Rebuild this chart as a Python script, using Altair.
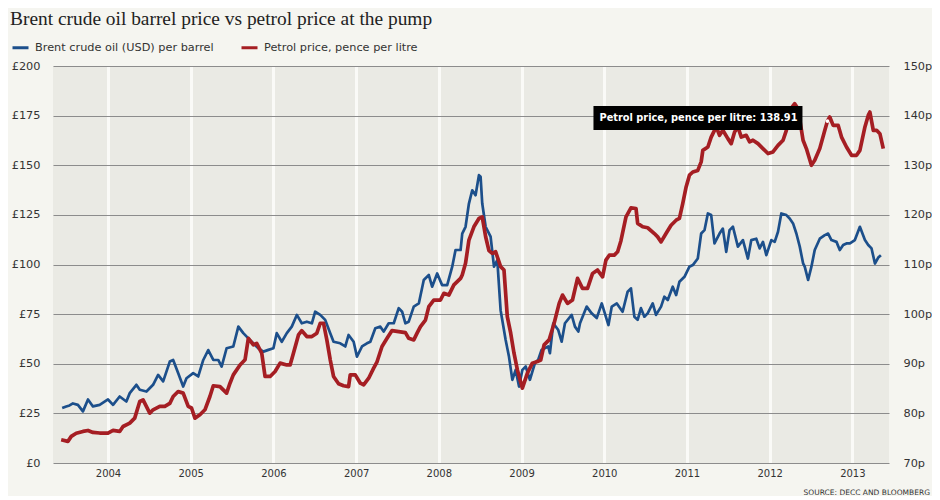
import altair as alt
import pandas as pd

TITLE = "Brent crude oil barrel price vs petrol price at the pump"
SOURCE = "SOURCE: DECC AND BLOOMBERG"
BLUE_NAME = "Brent crude oil (USD) per barrel"
RED_NAME = "Petrol price, pence per litre"

brent_year = [
    2003.446, 2003.495, 2003.535, 2003.576, 2003.636, 2003.697, 2003.758, 2003.818, 2003.899,
    2004.000, 2004.061, 2004.141, 2004.222, 2004.263, 2004.343, 2004.384, 2004.465, 2004.545,
    2004.606, 2004.667, 2004.747, 2004.788, 2004.848, 2004.909, 2004.949, 2005.030, 2005.091,
    2005.152, 2005.212, 2005.273, 2005.333, 2005.374, 2005.434, 2005.515, 2005.576, 2005.636,
    2005.697, 2005.737, 2005.818, 2005.879, 2005.939, 2006.000, 2006.040, 2006.101, 2006.162,
    2006.222, 2006.283, 2006.343, 2006.404, 2006.465, 2006.505, 2006.566, 2006.626, 2006.687,
    2006.727, 2006.808, 2006.869, 2006.909, 2006.970, 2007.010, 2007.071, 2007.131, 2007.172,
    2007.232, 2007.293, 2007.333, 2007.394, 2007.455, 2007.515, 2007.556, 2007.596, 2007.636,
    2007.697, 2007.758, 2007.818, 2007.879, 2007.919, 2007.980, 2008.040, 2008.101, 2008.162,
    2008.202, 2008.263, 2008.283, 2008.323, 2008.364, 2008.404, 2008.444, 2008.485, 2008.505,
    2008.525, 2008.566, 2008.626, 2008.667, 2008.707, 2008.747, 2008.808, 2008.848, 2008.889,
    2008.929, 2008.970, 2009.010, 2009.051, 2009.101, 2009.162, 2009.202, 2009.242, 2009.323,
    2009.343, 2009.384, 2009.444, 2009.485, 2009.525, 2009.606, 2009.646, 2009.687, 2009.707,
    2009.788, 2009.848, 2009.909, 2009.970, 2010.051, 2010.091, 2010.152, 2010.222, 2010.283,
    2010.323, 2010.364, 2010.404, 2010.444, 2010.485, 2010.525, 2010.586, 2010.626, 2010.687,
    2010.727, 2010.768, 2010.828, 2010.869, 2010.909, 2010.970, 2011.030, 2011.071, 2011.131,
    2011.172, 2011.212, 2011.253, 2011.293, 2011.333, 2011.394, 2011.434, 2011.475, 2011.515,
    2011.556, 2011.616, 2011.677, 2011.737, 2011.778, 2011.838, 2011.879, 2011.919, 2011.960,
    2012.020, 2012.061, 2012.101, 2012.141, 2012.202, 2012.242, 2012.283, 2012.323, 2012.364,
    2012.404, 2012.424, 2012.465, 2012.505, 2012.545, 2012.606, 2012.667, 2012.707, 2012.747,
    2012.808, 2012.848, 2012.889, 2012.929, 2012.970, 2013.030, 2013.091, 2013.152, 2013.192,
    2013.232, 2013.273, 2013.313, 2013.345,
]
brent_usd = [
    27.7, 28.5, 29.0, 30.0, 29.3, 26.0, 32.0, 28.5, 29.3,
    32.0, 29.3, 33.5, 31.0, 35.2, 39.4, 36.9, 36.0, 39.4,
    44.4, 41.1, 51.1, 51.9, 45.3, 38.5, 42.7, 45.3, 43.6,
    51.9, 56.9, 51.9, 51.9, 48.6, 57.8, 58.7, 68.7, 65.4,
    62.8, 61.1, 57.8, 56.1, 57.0, 57.8, 65.4, 61.1, 65.4,
    68.7, 74.6, 70.4, 71.2, 70.4, 76.2, 74.6, 72.1, 65.4,
    61.1, 60.3, 58.7, 64.5, 61.1, 53.6, 58.7, 60.3, 61.1,
    67.9, 68.7, 66.2, 70.4, 70.4, 78.0, 76.2, 70.4, 71.2,
    78.8, 80.4, 92.2, 94.7, 88.8, 95.5, 89.6, 89.6, 98.9,
    107.3, 107.3, 115.6, 119.0, 130.7, 137.4, 134.9, 145.0, 144.2,
    130.7, 119.0, 114.0, 98.9, 102.2, 77.0, 62.0, 53.6, 41.9,
    46.9, 38.5, 46.9, 48.6, 41.9, 50.3, 52.0, 57.0, 58.7,
    55.3, 70.4, 67.0, 61.1, 70.4, 74.6, 68.7, 66.2, 70.4,
    78.8, 75.4, 73.0, 80.4, 69.5, 78.8, 80.4, 76.2, 86.3,
    88.0, 73.7, 72.1, 78.0, 73.7, 75.4, 80.4, 74.6, 78.8,
    83.8, 82.1, 88.8, 84.6, 91.3, 93.8, 98.9, 99.7, 103.0,
    115.6, 117.3, 125.7, 124.9, 110.6, 115.6, 118.1, 106.4, 117.3,
    119.0, 109.0, 112.3, 103.0, 112.3, 113.0, 108.1, 111.4, 104.7,
    112.3, 111.4, 116.5, 125.7, 124.9, 123.2, 120.7, 115.6, 109.0,
    100.6, 98.9, 92.2, 98.9, 107.3, 113.0, 114.8, 115.6, 112.3,
    111.4, 107.3, 109.8, 110.6, 110.6, 112.3, 119.0, 112.3, 109.8,
    108.1, 100.5, 103.5, 104.7,
]

petrol_year = [
    2003.434, 2003.515, 2003.556, 2003.616, 2003.697, 2003.758, 2003.818, 2003.899, 2004.000,
    2004.061, 2004.141, 2004.182, 2004.263, 2004.323, 2004.384, 2004.424, 2004.505, 2004.545,
    2004.626, 2004.687, 2004.747, 2004.788, 2004.848, 2004.909, 2004.970, 2005.010, 2005.051,
    2005.111, 2005.172, 2005.232, 2005.273, 2005.354, 2005.434, 2005.475, 2005.515, 2005.596,
    2005.657, 2005.697, 2005.758, 2005.798, 2005.859, 2005.899, 2005.960, 2006.020, 2006.081,
    2006.162, 2006.202, 2006.242, 2006.303, 2006.343, 2006.404, 2006.465, 2006.525, 2006.566,
    2006.606, 2006.646, 2006.687, 2006.727, 2006.788, 2006.848, 2006.909, 2006.929, 2006.990,
    2007.051, 2007.091, 2007.152, 2007.212, 2007.253, 2007.313, 2007.374, 2007.434, 2007.515,
    2007.596, 2007.636, 2007.697, 2007.737, 2007.778, 2007.838, 2007.879, 2007.939, 2008.020,
    2008.061, 2008.121, 2008.182, 2008.263, 2008.283, 2008.323, 2008.364, 2008.424, 2008.485,
    2008.525, 2008.566, 2008.606, 2008.646, 2008.687, 2008.747, 2008.788, 2008.828, 2008.869,
    2008.909, 2008.950, 2009.010, 2009.071, 2009.131, 2009.192, 2009.232, 2009.273, 2009.333,
    2009.394, 2009.455, 2009.495, 2009.556, 2009.616, 2009.677, 2009.737, 2009.798, 2009.859,
    2009.919, 2009.980, 2010.020, 2010.061, 2010.121, 2010.162, 2010.202, 2010.263, 2010.323,
    2010.384, 2010.404, 2010.465, 2010.525, 2010.606, 2010.646, 2010.687, 2010.747, 2010.808,
    2010.869, 2010.909, 2010.949, 2010.990, 2011.030, 2011.071, 2011.131, 2011.172, 2011.192,
    2011.253, 2011.293, 2011.354, 2011.394, 2011.434, 2011.495, 2011.535, 2011.576, 2011.616,
    2011.657, 2011.717, 2011.758, 2011.798, 2011.859, 2011.919, 2011.980, 2012.040, 2012.101,
    2012.162, 2012.202, 2012.242, 2012.303, 2012.343, 2012.404, 2012.444, 2012.505, 2012.545,
    2012.606, 2012.667, 2012.699, 2012.727, 2012.768, 2012.828, 2012.869, 2012.929, 2012.990,
    2013.051, 2013.091, 2013.152, 2013.192, 2013.212, 2013.253, 2013.293, 2013.333, 2013.374,
]
petrol_pence = [
    74.68, 74.36, 75.36, 76.00, 76.36, 76.56, 76.16, 76.04, 76.04,
    76.56, 76.36, 77.36, 78.04, 79.04, 82.40, 82.72, 80.04, 80.72,
    81.40, 81.40, 82.00, 83.40, 84.40, 84.08, 81.40, 81.08, 79.04,
    79.72, 80.72, 83.40, 85.56, 85.40, 84.08, 86.08, 87.76, 89.76,
    90.80, 95.12, 93.80, 94.12, 92.12, 87.44, 87.44, 88.44, 90.12,
    89.76, 89.76, 92.12, 95.80, 96.68, 95.48, 95.48, 96.16, 98.16,
    98.16, 94.80, 90.80, 87.44, 85.96, 85.56, 85.40, 87.76, 87.76,
    86.08, 85.76, 87.08, 89.12, 90.40, 93.48, 95.12, 96.68, 96.48,
    96.28, 95.12, 94.80, 96.16, 97.48, 98.80, 101.52, 102.84, 102.84,
    104.20, 103.84, 105.88, 107.20, 107.88, 110.24, 114.92, 117.60, 119.28,
    119.60, 115.60, 112.80, 112.24, 112.56, 109.56, 108.88, 99.48, 96.16,
    92.12, 88.76, 85.08, 88.12, 90.12, 90.44, 90.76, 93.80, 94.80,
    98.16, 102.16, 103.84, 102.16, 102.84, 107.20, 105.20, 105.20, 108.20,
    108.88, 107.52, 110.88, 111.88, 111.88, 112.56, 114.80, 119.60, 121.40,
    121.28, 118.28, 117.60, 117.40, 116.24, 115.56, 114.56, 116.24, 117.92,
    118.92, 119.28, 122.28, 125.64, 128.00, 128.64, 128.96, 130.68, 133.00,
    133.68, 135.68, 137.72, 136.04, 137.04, 135.36, 134.36, 136.72, 137.72,
    135.68, 136.04, 134.72, 135.04, 134.36, 133.36, 132.36, 132.68, 134.00,
    135.04, 137.04, 141.04, 142.40, 141.40, 135.04, 133.36, 130.00, 131.00,
    133.36, 137.04, 138.91, 139.72, 138.04, 138.04, 135.68, 133.68, 132.00,
    132.00, 133.00, 137.72, 140.04, 140.72, 137.04, 137.04, 136.36, 133.36,
]

year_ticks = [2004, 2005, 2006, 2007, 2008, 2009, 2010, 2011, 2012, 2013]
usd_ticks = [0, 25, 50, 75, 100, 125, 150, 175, 200]
pence_ticks = [70, 80, 90, 100, 110, 120, 130, 140, 150]
hover_year = 2012.699
hover_pence = 138.91

BLUE = "#1C4F8B"
RED = "#A51E23"
FONT = "DejaVu Sans"
TXT = "#333333"
W, H = 836, 397

blue_df = pd.DataFrame({"year": brent_year, "value": brent_usd, "series": BLUE_NAME})
red_df = pd.DataFrame({"year": petrol_year, "pence": petrol_pence, "series": RED_NAME})
hover_df = pd.DataFrame({
    "year": [hover_year],
    "pence": [hover_pence],
    "label": [f"{RED_NAME}: {hover_pence:.2f}"],
})

x_enc = alt.X(
    "year:Q",
    scale=alt.Scale(domain=[2003.335, 2013.443], nice=False, zero=False),
    axis=alt.Axis(values=year_ticks, format="d", title=None, grid=True,
                  gridColor="#FAFAF7", gridWidth=3, domain=False, ticks=False,
                  tickSize=0, labelPadding=5, labelFontSize=10, labelColor=TXT,
                  labelFont=FONT),
)

color = alt.Color(
    "series:N",
    scale=alt.Scale(domain=[BLUE_NAME, RED_NAME], range=[BLUE, RED]),
    legend=alt.Legend(title=None, orient="none", legendX=-42, legendY=-28,
                      direction="horizontal", symbolType="stroke",
                      symbolStrokeWidth=3, symbolSize=256, labelFont=FONT,
                      labelFontSize=11.3, labelColor=TXT, labelLimit=400,
                      columnPadding=21, labelOffset=5, padding=0),
)

left_y = alt.Y(
    "value:Q",
    scale=alt.Scale(domain=[0, 200], nice=False),
    axis=alt.Axis(orient="left", values=usd_ticks, labelExpr="'£' + datum.value",
                  title=None, grid=True, gridColor="#8C8C8C", gridWidth=1,
                  domain=False, ticks=False, tickSize=0, labelPadding=13,
                  labelFontSize=11.3, labelFont=FONT, labelColor=TXT),
)

right_y = alt.Y(
    "pence:Q",
    scale=alt.Scale(domain=[70, 150], nice=False, zero=False),
    axis=alt.Axis(orient="right", values=pence_ticks, labelExpr="datum.value + 'p'",
                  title=None, grid=False, domain=False, ticks=False, tickSize=0,
                  labelPadding=14, labelFontSize=11.3, labelFont=FONT,
                  labelColor=TXT),
)

blue = alt.Chart(blue_df).mark_line(strokeWidth=2.7, strokeJoin="round").encode(
    x=x_enc, y=left_y, color=color
)

red = alt.Chart(red_df).mark_line(strokeWidth=3.7, strokeJoin="round").encode(
    x=x_enc, y=right_y, color=color
)

box = alt.Chart(hover_df).mark_rect(
    color="black", xOffset=-234, x2Offset=-25, yOffset=-15, y2Offset=9
).encode(x=x_enc, x2="year", y=right_y, y2="pence")

tip = alt.Chart(hover_df).mark_text(
    align="left", baseline="middle", dx=-228, dy=-3, font=FONT,
    fontWeight="bold", fontSize=9.8, color="white"
).encode(x=x_enc, y=right_y, text="label:N")

dot = alt.Chart(hover_df).mark_point(
    filled=True, color="white", size=14, opacity=1
).encode(x=x_enc, y=right_y)

title_mark = alt.Chart(pd.DataFrame({"t": [TITLE]})).mark_text(
    align="left", baseline="alphabetic", font="Liberation Serif", fontSize=19.4,
    color="#222222"
).encode(x=alt.value(-43), y=alt.value(-41), text="t:N")

source_mark = alt.Chart(pd.DataFrame({"t": [SOURCE]})).mark_text(
    align="right", baseline="alphabetic", font=FONT, fontSize=7.5, color=TXT
).encode(x=alt.value(W + 41), y=alt.value(H + 32), text="t:N")

chart = alt.layer(
    blue,
    alt.layer(red, box, tip, dot),
    title_mark,
    source_mark,
).resolve_scale(y="independent").properties(
    width=W,
    height=H,
    padding={"left": 45, "top": 58, "right": 43, "bottom": 33},
    autosize=alt.AutoSizeParams(type="none"),
    background="#F5F5F0",
).configure_view(fill="#EAEAE4", strokeWidth=0)

chart.save("out.html", embed_options={"renderer": "svg", "actions": False})
